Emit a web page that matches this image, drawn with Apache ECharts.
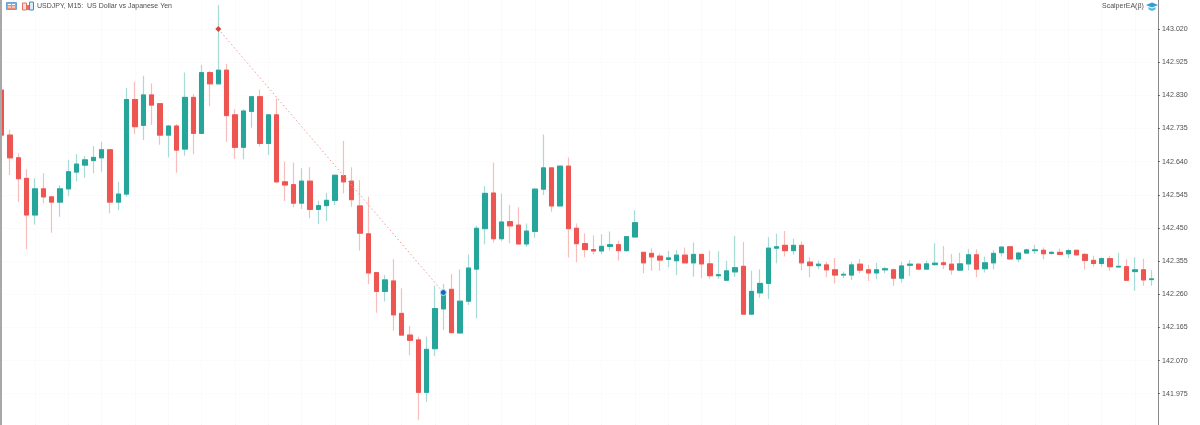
<!DOCTYPE html>
<html>
<head>
<meta charset="utf-8">
<style>html,body{margin:0;padding:0;background:#fff}#c{width:1200px;height:425px}</style>
<script src="https://cdn.jsdelivr.net/npm/echarts@6/dist/echarts.min.js"></script>
</head>
<body>
<div id="c"></div>
<script>
const opens = [142.845,142.716,142.651,142.592,142.487,142.562,142.539,142.524,142.562,142.610,142.630,142.643,142.651,142.674,142.524,142.547,142.818,142.744,142.831,142.806,142.716,142.742,142.676,142.824,142.721,142.895,142.863,142.902,142.774,142.681,142.784,142.826,142.692,142.774,142.582,142.574,142.521,142.584,142.503,142.514,142.529,142.600,142.584,142.513,142.433,142.322,142.268,142.298,142.205,142.143,142.129,141.979,142.104,142.218,142.274,142.149,142.240,142.332,142.448,142.550,142.419,142.468,142.458,142.404,142.440,142.561,142.622,142.513,142.627,142.449,142.405,142.388,142.384,142.397,142.402,142.385,142.424,142.380,142.377,142.369,142.360,142.356,142.372,142.350,142.374,142.347,142.313,142.300,142.324,142.340,142.203,142.264,142.291,142.392,142.400,142.385,142.400,142.352,142.342,142.344,142.330,142.315,142.315,142.346,142.330,142.321,142.330,142.330,142.306,142.343,142.346,142.332,142.345,142.350,142.346,142.329,142.347,142.373,142.333,142.350,142.379,142.396,142.361,142.378,142.385,142.386,142.377,142.380,142.376,142.386,142.374,142.357,142.348,142.362,142.338,142.339,142.325,142.330,142.302];
const closes = [142.716,142.651,142.591,142.487,142.562,142.539,142.524,142.562,142.611,142.633,142.645,142.652,142.674,142.524,142.547,142.818,142.740,142.831,142.802,142.716,142.742,142.673,142.824,142.721,142.895,142.863,142.902,142.772,142.681,142.785,142.826,142.692,142.774,142.582,142.573,142.521,142.584,142.503,142.514,142.529,142.601,142.582,142.531,142.435,142.321,142.268,142.301,142.201,142.143,142.128,141.979,142.102,142.219,142.266,142.150,142.240,142.335,142.449,142.549,142.419,142.467,142.456,142.404,142.441,142.561,142.622,142.513,142.627,142.448,142.405,142.388,142.384,142.397,142.402,142.385,142.425,142.465,142.350,142.367,142.358,142.364,142.372,142.350,142.374,142.347,142.313,142.316,142.327,142.336,142.203,142.268,142.291,142.392,142.396,142.385,142.400,142.350,142.342,142.346,142.330,142.315,142.317,142.344,142.329,142.321,142.330,142.333,142.306,142.341,142.346,142.332,142.347,142.349,142.345,142.330,142.347,142.373,142.332,142.350,142.377,142.395,142.361,142.378,142.387,142.387,142.376,142.380,142.374,142.385,142.373,142.357,142.348,142.362,142.339,142.340,142.300,142.330,142.301,142.304];
const lows = [142.716,142.602,142.525,142.389,142.460,142.521,142.436,142.482,142.542,142.584,142.594,142.607,142.611,142.492,142.501,142.539,142.719,142.702,142.745,142.688,142.652,142.608,142.657,142.661,142.721,142.799,142.863,142.697,142.648,142.647,142.737,142.683,142.659,142.578,142.527,142.509,142.504,142.478,142.461,142.470,142.516,142.549,142.511,142.385,142.289,142.207,142.239,142.156,142.143,142.085,141.900,141.952,142.083,142.157,142.148,142.149,142.229,142.191,142.403,142.408,142.412,142.406,142.404,142.396,142.422,142.544,142.496,142.513,142.365,142.352,142.366,142.374,142.375,142.385,142.357,142.381,142.424,142.320,142.327,142.327,142.337,142.315,142.349,142.310,142.306,142.304,142.304,142.299,142.310,142.201,142.203,142.250,142.246,142.349,142.368,142.374,142.329,142.309,142.332,142.309,142.291,142.306,142.301,142.320,142.298,142.303,142.320,142.284,142.293,142.312,142.329,142.331,142.341,142.332,142.316,142.327,142.329,142.309,142.322,142.331,142.368,142.360,142.352,142.376,142.375,142.360,142.373,142.372,142.363,142.370,142.331,142.339,142.339,142.327,142.336,142.298,142.270,142.284,142.284];
const highs = [142.845,142.731,142.664,142.618,142.592,142.607,142.539,142.572,142.645,142.662,142.656,142.685,142.697,142.674,142.582,142.851,142.869,142.886,142.864,142.806,142.745,142.748,142.895,142.834,142.917,142.900,143.089,142.920,142.790,142.790,142.826,142.847,142.774,142.821,142.640,142.637,142.621,142.624,142.528,142.551,142.601,142.699,142.624,142.587,142.539,142.322,142.315,142.360,142.277,142.169,142.138,142.138,142.284,142.289,142.318,142.331,142.374,142.456,142.570,142.637,142.549,142.516,142.509,142.463,142.565,142.718,142.622,142.627,142.652,142.463,142.435,142.428,142.432,142.440,142.413,142.425,142.501,142.380,142.392,142.377,142.384,142.387,142.394,142.408,142.374,142.385,142.383,142.356,142.427,142.410,142.327,142.331,142.423,142.433,142.441,142.419,142.411,142.366,142.356,142.353,142.364,142.325,142.353,142.360,142.344,142.350,142.339,142.334,142.353,142.358,142.350,142.356,142.406,142.398,142.375,142.379,142.389,142.389,142.368,142.387,142.398,142.396,142.382,142.390,142.401,142.394,142.384,142.390,142.390,142.386,142.379,142.370,142.366,142.370,142.379,142.360,142.366,142.362,142.329];
const times = opens.map((_, i) => String(i));
const tickValues = [141.975,142.070,142.165,142.260,142.355,142.450,142.545,142.640,142.735,142.830,142.925,143.020];
const tradeBars = [26, 53];
const tradePrices = [143.020, 142.265];
const titleLeft = "USDJPY, M15:  US Dollar vs Japanese Yen";
const titleRight = "ScalperEA(β)";

const green = '#26a69a', red = '#ec5552';
const wickData = opens.map((o, i) => [o, closes[i], lows[i], highs[i]]);
const bodyData = opens.map((o, i) => [o, closes[i], Math.min(o, closes[i]), Math.max(o, closes[i])]);
const font = '"Liberation Sans", Arial, sans-serif';

const chart = echarts.init(document.getElementById('c'), null, {renderer: 'canvas'});
chart.setOption({
  animation: false,
  backgroundColor: '#ffffff',
  grid: {left: -2.5, width: 139 * 8.333, top: 0, bottom: 0, containLabel: false, outerBoundsMode: 'none'},
  xAxis: {
    type: 'category', data: times, boundaryGap: true,
    axisLine: {show: false}, axisTick: {show: false}, axisLabel: {show: false},
    splitLine: {show: true, alignWithLabel: true, interval: (i) => i % 4 === 0,
      lineStyle: {color: '#f6f6f6', width: 1, type: 'dotted'}}
  },
  yAxis: {
    type: 'value', position: 'right', offset: 2.1, min: 141.8853, max: 143.1031, scale: true,
    axisLine: {show: true, lineStyle: {color: '#8a8a8a', width: 1}},
    axisTick: {show: true, length: 2, customValues: tickValues, lineStyle: {color: '#666'}},
    axisLabel: {show: true, customValues: tickValues, margin: 4.2, color: '#4f4f4f', fontSize: 7.1, fontFamily: font,
      formatter: (v) => v.toFixed(3), showMinLabel: true, showMaxLabel: true},
    splitLine: {show: true, lineStyle: {color: '#f6f6f6', width: 1, type: 'dotted'}}
  },
  series: [
    {type: 'candlestick', name: 'wicks', data: wickData, barWidth: 5, z: 2, silent: true,
      itemStyle: {color: '#a9dbd6', color0: '#f8bdbb', borderColor: '#a9dbd6', borderColor0: '#f8bdbb', borderWidth: 1.2}},
    {type: 'candlestick', name: 'bodies', data: bodyData, barWidth: 5, z: 3, silent: true,
      itemStyle: {color: green, color0: red, borderColor: green, borderColor0: red, borderWidth: 1}},
    {type: 'line', name: 'trade', z: 4, silent: true,
      data: [
        {value: [tradeBars[0], tradePrices[0]], symbol: 'diamond', symbolSize: 6, itemStyle: {color: '#d9433c'}},
        {value: [tradeBars[1], tradePrices[1]], symbol: 'circle', symbolSize: 6, itemStyle: {color: '#1565c0', borderColor: '#bfe6f2', borderWidth: 1}}
      ],
      showSymbol: true, showAllSymbol: true,
      lineStyle: {color: '#ef9a94', width: 1, type: [1.5, 2.5]}}
  ],
  graphic: [
    {type: 'rect', silent: true, z: 50, shape: {x: 0, y: 0, width: 2, height: 425}, style: {fill: '#a8a8a8'}},
    {type: 'text', silent: true, z: 50, x: 37, y: 3, style: {text: titleLeft, fill: '#4f4f4f', font: '7px ' + font}},
    {type: 'text', silent: true, z: 50, x: 1102, y: 3, style: {text: titleRight, fill: '#4f4f4f', font: '7px ' + font}},
    {type: 'rect', silent: true, z: 50, shape: {x: 6.5, y: 2.5, width: 10, height: 7}, style: {fill: '#ef8a78', stroke: '#6aa5d8', lineWidth: 1}},
    {type: 'rect', silent: true, z: 51, shape: {x: 8, y: 4, width: 3, height: 1}, style: {fill: '#fff'}},
    {type: 'rect', silent: true, z: 51, shape: {x: 12, y: 4, width: 3, height: 1}, style: {fill: '#fff'}},
    {type: 'rect', silent: true, z: 51, shape: {x: 8, y: 6.5, width: 3, height: 1}, style: {fill: '#fff'}},
    {type: 'rect', silent: true, z: 51, shape: {x: 12, y: 6.5, width: 3, height: 1}, style: {fill: '#fff'}},
    {type: 'rect', silent: true, z: 50, shape: {x: 22.5, y: 3, width: 4, height: 7}, style: {fill: '#fbdcd6', stroke: '#e8705f', lineWidth: 1}},
    {type: 'rect', silent: true, z: 50, shape: {x: 29.5, y: 2, width: 4, height: 8}, style: {fill: '#d8e9f7', stroke: '#3d8fd0', lineWidth: 1}},
    {type: 'rect', silent: true, z: 50, shape: {x: 27, y: 5, width: 2, height: 5}, style: {fill: '#e8705f'}},
    {type: 'polygon', silent: true, z: 50, shape: {points: [[1146, 5], [1152, 2.5], [1158, 5], [1152, 7.5]]}, style: {fill: '#2f9fd6'}},
    {type: 'polygon', silent: true, z: 50, shape: {points: [[1148.5, 7], [1152, 8.5], [1155.5, 7], [1155.5, 9.5], [1152, 11], [1148.5, 9.5]]}, style: {fill: '#5fb8df'}}
  ]
});
</script>
</body>
</html>
